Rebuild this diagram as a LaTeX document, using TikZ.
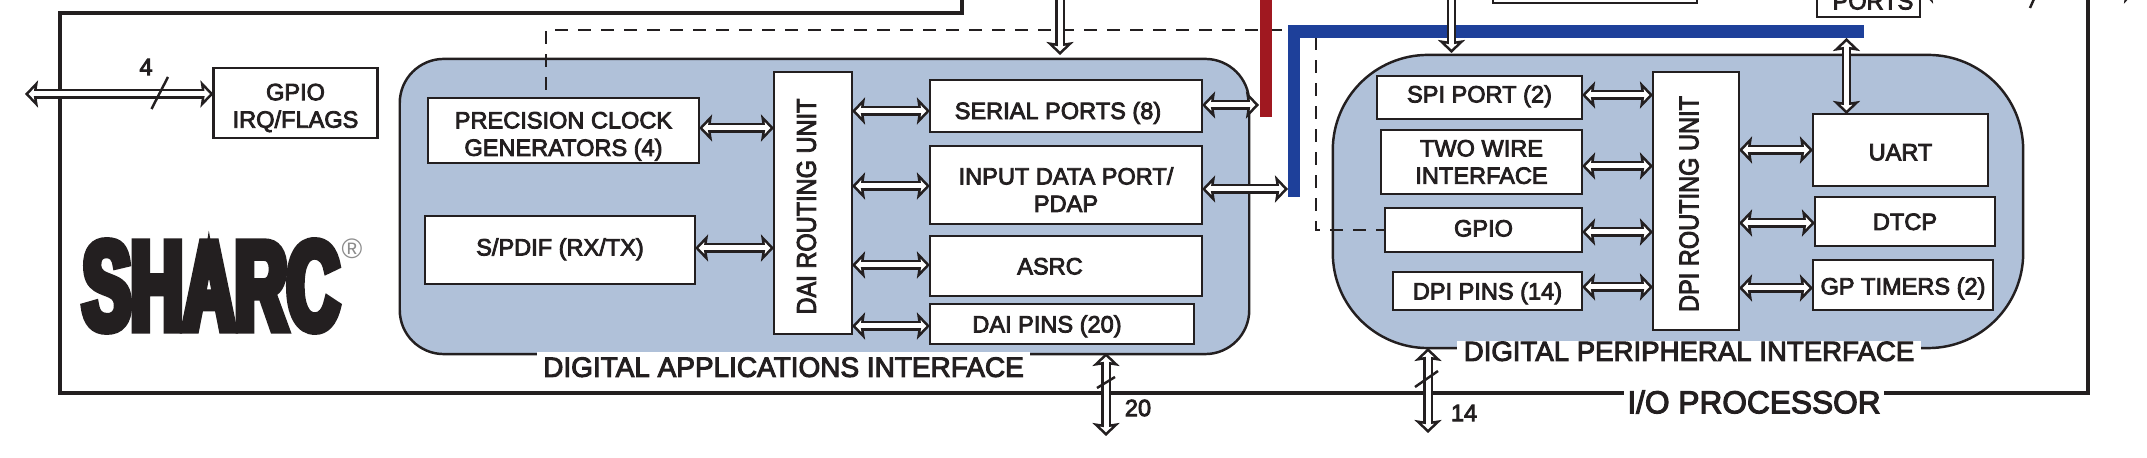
\documentclass[tikz,border=0pt]{standalone}
\usepackage{fontspec}
\setmainfont[FakeBold=3.5]{Liberation Sans}
\newfontfamily\plainfont{Liberation Sans}
\newfontfamily\logofont[FakeStretch=0.57,FakeBold=6.5]{Liberation Sans Bold}
\usetikzlibrary{arrows.meta}
\definecolor{ink}{HTML}{231F20}
\definecolor{ifaceblue}{HTML}{B0C1D9}
\definecolor{barred}{HTML}{A01820}
\definecolor{barblue}{HTML}{1E409A}
\tikzset{
  bustip/.tip={Stealth[length=0.13cm,width=0.27cm,inset=0.02cm,fill=white,line width=0.7pt]},
  bus/.style={draw=ink, line width=0.7pt, double=white, double distance=0.05cm, {bustip}-{bustip},
    postaction={draw=white, line width=0.05cm, -, shorten >=0.08cm, shorten <=0.08cm}},
  busin/.style={bus, -{bustip}},
  box/.style={draw=ink, fill=white, line width=0.7pt, inner sep=0pt, outer sep=0pt, align=center},
  capline/.style={text height=#1, text depth=0pt},
  capline/.default=4.8pt,
  iface/.style={draw=ink, fill=ifaceblue, line width=0.7pt, inner sep=0pt},
  ifacetxt/.style={fill=white, inner sep=0pt, text height=5.6pt, text depth=0pt},
  ctrl/.style={ink, line width=0.65pt, dash pattern=on 0.13cm off 0.10cm},
  tick/.style={ink, line width=0.7pt},
  bar/.style={line width=0.125cm}
}
\begin{document}
\begin{tikzpicture}[x=0.01cm, y=-0.01cm, every node/.style={font=\fontsize{6.7}{7.8}\selectfont, text=ink}]
    \useasboundingbox (0,0) rectangle (2147,458);
    \clip (0,0) rectangle (2147,458);
    % frame
    \draw[ink, line width=1pt] (962,-5) -- (962,13) -- (60,13) -- (60,393) -- (2088,393) -- (2088,-5);
    \node[fill=white, inner sep=0pt, minimum width=2.6cm, text height=6.4pt, text depth=0pt, font=\fontsize{9}{10}\selectfont] (iotxt) at (1754,402) {I/O PROCESSOR};
    % interfaces
    \node[iface, minimum width=8.49cm, minimum height=2.95cm, rounded corners=0.44cm] (daiif) at (824.5,206.5) {};
    \node[iface, minimum width=6.90cm, minimum height=2.93cm, rounded corners=0.95cm] (dpiif) at (1678,201.5) {};
    \node[ifacetxt, minimum width=4.93cm, minimum height=0.30cm, font=\fontsize{7.95}{9}\selectfont] (daitxt) at (783.5,367) {DIGITAL APPLICATIONS INTERFACE};
    \node[ifacetxt, minimum width=4.64cm, font=\fontsize{7.85}{9}\selectfont] (dpitxt) at (1689,351) {DIGITAL PERIPHERAL INTERFACE};
    % logo
    \node[inner sep=0pt, font=\logofont\fontsize{36}{36}\selectfont] (logo) at (211,286) {SHARC};
    \node[inner sep=0pt, text=black!45, font=\plainfont\fontsize{8}{8}\selectfont] (regmark) at (352,249) {\textregistered};
    % cut-off blocks
    \node[box, minimum width=2.04cm, minimum height=0.5cm] (topbox) at (1595,-22) {};
    \node[box, minimum width=1.03cm, minimum height=0.6cm] (ports) at (1868.5,-13) {};
    \node[inner sep=0pt, capline] (portstxt) at (1873,1) {PORTS};
    % left blocks
    \node[box, minimum width=1.64cm, minimum height=0.70cm] (gpio) at (295.5,103) {\rule{0pt}{7.5pt}GPIO\\IRQ/FLAGS};
    \node[box, minimum width=2.71cm, minimum height=0.65cm] (pcg) at (563.5,130.5) {\rule{0pt}{8pt}PRECISION CLOCK\\GENERATORS (4)};
    \node[box, minimum width=2.70cm, minimum height=0.68cm, capline=3.1pt] (spdif) at (560,250) {S/PDIF (RX/TX)};
    \node[box, minimum width=0.78cm, minimum height=2.62cm] (dairu) at (813,203) {\hspace*{-0.13cm}\rotatebox{90}{\scalebox{1}[1.15]{DAI ROUTING UNIT}\hspace*{0.07cm}}};
    \node[box, minimum width=2.72cm, minimum height=0.52cm, capline=7.4pt] (serial) at (1066,106) {\hspace*{-0.16cm}SERIAL PORTS (8)};
    \node[box, minimum width=2.72cm, minimum height=0.78cm] (idp) at (1066,185) {\rule{0pt}{7.5pt}INPUT DATA PORT/\\PDAP};
    \node[box, minimum width=2.72cm, minimum height=0.60cm, capline] (asrc) at (1066,266) {\hspace*{-0.32cm}ASRC};
    \node[box, minimum width=2.64cm, minimum height=0.40cm, capline] (daipins) at (1062,324) {\hspace*{-0.30cm}DAI PINS (20)};
    % right blocks
    \node[box, minimum width=2.05cm, minimum height=0.43cm, capline=2.8pt] (spi) at (1479.5,97.5) {SPI PORT (2)};
    \node[box, minimum width=2.01cm, minimum height=0.64cm] (twi) at (1481.5,162) {TWO WIRE\\INTERFACE};
    \node[box, minimum width=1.97cm, minimum height=0.44cm, capline=3.7pt] (dpigpio) at (1483.5,230) {GPIO};
    \node[box, minimum width=1.89cm, minimum height=0.38cm, capline] (dpipins) at (1487.5,291) {DPI PINS (14)};
    \node[box, minimum width=0.86cm, minimum height=2.58cm] (dpiru) at (1696,201) {\hspace*{-0.14cm}\rotatebox{90}{\scalebox{1}[1.15]{DPI ROUTING UNIT}\hspace*{0.06cm}}};
    \node[box, minimum width=1.75cm, minimum height=0.72cm, capline=5.9pt] (uart) at (1900.5,150) {UART};
    \node[box, minimum width=1.80cm, minimum height=0.49cm, capline] (dtcp) at (1905,221.5) {DTCP};
    \node[box, minimum width=1.80cm, minimum height=0.50cm, capline=5.4pt] (timers) at (1903,285) {GP TIMERS (2)};
    % control lines
    \coordinate (pcgup) at (546,90);
    \coordinate (ctrltop) at (1288,30);
    \coordinate (ctrlside) at (1316,37);
    \draw[ctrl] (pcgup) -- (546,30) -- (ctrltop);
    \draw[ctrl] (ctrlside) -- (1316,230) -- (dpigpio.west |- 0,230);
    % bars
    \coordinate (redtop) at (1266,-5);
    \coordinate (redend) at (1266,117);
    \coordinate (blueend) at (1294,197);
    \coordinate (blueright) at (1864,31.5);
    \draw[bar, barred] (redtop) -- (redend);
    \draw[bar, barblue] (blueend) |- (blueright);
    % buses
    \coordinate (gpiopin) at (25,94);
    \coordinate (daipin) at (1106,436);
    \coordinate (dpipin) at (1428,433);
    \draw[bus] (gpiopin) -- (gpio.west |- gpiopin);
    \draw[tick] (151.5,109) -- (168,77);
    \node[inner sep=0pt] (gpiocount) at (146,67) {4};
    \draw[bus] (pcg.east |- 0,128) -- (dairu.west |- 0,128);
    \draw[bus] (spdif.east |- 0,248) -- (dairu.west |- 0,248);
    \draw[bus] (dairu.east |- 0,111) -- (serial.west |- 0,111);
    \draw[bus] (dairu.east |- 0,186) -- (idp.west |- 0,186);
    \draw[bus] (dairu.east |- 0,265) -- (asrc.west |- 0,265);
    \draw[bus] (dairu.east |- 0,326) -- (daipins.west |- 0,326);
    \draw[bus] (serial.east |- 0,105) -- (1259,105);
    \draw[bus] (idp.east |- 0,189) -- (1288,189);
    \draw[bus] (1106,353) -- (daipin);
    \draw[tick] (1097,388) -- (1115,377);
    \node[inner sep=0pt] (daicount) at (1138,408) {20};
    \draw[busin] (1060,-8) -- (1060,55);
    \draw[busin] (1451.5,-8) -- (1451.5,53);
    \draw[bus] (1846.5,38) -- (uart.north -| 1846.5,0);
    \draw[bus] (1428,348) -- (dpipin);
    \draw[tick] (1415,387) -- (1438,371);
    \node[inner sep=0pt] (dpicount) at (1464,413) {14};
    \draw[bus] (spi.east |- 0,95) -- (dpiru.west |- 0,95);
    \draw[bus] (twi.east |- 0,166) -- (dpiru.west |- 0,166);
    \draw[bus] (dpigpio.east |- 0,232) -- (dpiru.west |- 0,232);
    \draw[bus] (dpipins.east |- 0,287) -- (dpiru.west |- 0,287);
    \draw[bus] (dpiru.east |- 0,150) -- (uart.west |- 0,150);
    \draw[bus] (dpiru.east |- 0,223) -- (dtcp.west |- 0,223);
    \draw[bus] (dpiru.east |- 0,288) -- (timers.west |- 0,288);
    % bus leaving the picture at the top
    \draw[bus] (ports.east |- 0,-10) -- (2137,-10);
    \draw[tick] (2030,8) -- (2038,-10);
\end{tikzpicture}
\end{document}
